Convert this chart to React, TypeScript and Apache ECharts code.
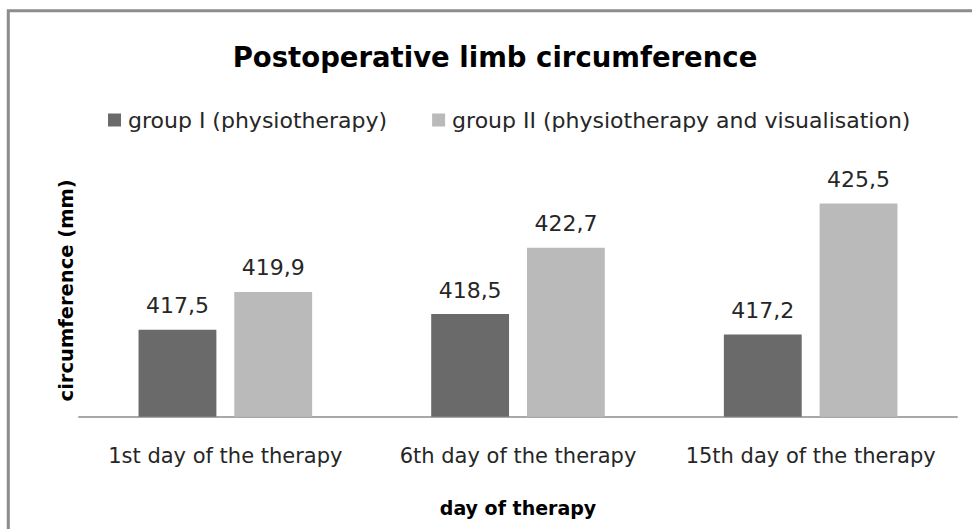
import React, { useEffect, useRef } from "react";
import * as echarts from "echarts";

const categories = [
  "1st day of the therapy",
  "6th day of the therapy",
  "15th day of the therapy",
];
const seriesNames = [
  "group I (physiotherapy)",
  "group II (physiotherapy and visualisation)",
];
const group1 = [417.5, 418.5, 417.2];
const group2 = [419.9, 422.7, 425.5];
const yMin = 412;
const yMax = 428;

const FONT = "DejaVu Sans";
const fmt = (v: number) => v.toFixed(1).replace(".", ",");

export default function App() {
  const ref = useRef<HTMLDivElement>(null);
  useEffect(() => {
    if (!ref.current) return;
    const chart = echarts.init(ref.current, null, { renderer: "svg" });
    const label = {
      show: true,
      position: "top",
      distance: 13,
      fontFamily: FONT,
      fontSize: 22,
      color: "#262626",
      formatter: (p: any) => fmt(p.value),
    };
    chart.setOption({
      animation: false,
      backgroundColor: "#ffffff",
      textStyle: { fontFamily: FONT },
      title: {
        text: "Postoperative limb circumference",
        left: 490,
        top: 38,
        textAlign: "center",
        textStyle: {
          fontFamily: FONT,
          fontSize: 27.5,
          fontWeight: "bold",
          color: "#000000",
        },
      },
      legend: {
        left: 103,
        top: 104,
        itemWidth: 13,
        itemHeight: 13,
        itemGap: 45,
        icon: "rect",
        textStyle: { fontFamily: FONT, fontSize: 22, color: "#262626", padding: [0, 0, 0, 2] },
        data: seriesNames,
      },
      graphic: [
        {
          type: "rect",
          shape: { x: 8.3, y: 10.7, width: 1100, height: 700 },
          style: { fill: "none", stroke: "#8c8c8c", lineWidth: 3 },
          silent: true,
        },
      ],
      grid: { left: 79, right: 15, top: 164, bottom: 112.3, containLabel: false },
      xAxis: {
        type: "category",
        data: categories,
        axisTick: { show: false },
        axisLine: { lineStyle: { color: "#a8a8a8", width: 2 } },
        axisLabel: {
          interval: 0,
          margin: 29,
          fontFamily: FONT,
          fontSize: 21,
          color: "#262626",
        },
        name: "day of therapy",
        nameLocation: "middle",
        nameGap: 82,
        nameTextStyle: {
          fontFamily: FONT,
          fontSize: 19,
          fontWeight: "bold",
          color: "#000000",
        },
      },
      yAxis: {
        type: "value",
        min: yMin,
        max: yMax,
        axisLine: { show: false },
        axisTick: { show: false },
        axisLabel: { show: false },
        splitLine: { show: false },
        name: "circumference (mm)",
        nameLocation: "middle",
        nameGap: 3,
        nameTextStyle: {
          fontFamily: FONT,
          fontSize: 19.5,
          fontWeight: "bold",
          color: "#000000",
        },
      },
      series: [
        {
          name: seriesNames[0],
          type: "bar",
          data: group1,
          barWidth: "26.6%",
          barGap: "23%",
          itemStyle: { color: "#6a6a6a" },
          label,
        },
        {
          name: seriesNames[1],
          type: "bar",
          data: group2,
          barWidth: "26.6%",
          barGap: "23%",
          itemStyle: { color: "#bababa" },
          label,
        },
      ],
    });
    return () => chart.dispose();
  }, []);
  return (
    <div
      ref={ref}
      style={{ position: "fixed", left: 0, top: 0, width: 972, height: 529 }}
    />
  );
}
